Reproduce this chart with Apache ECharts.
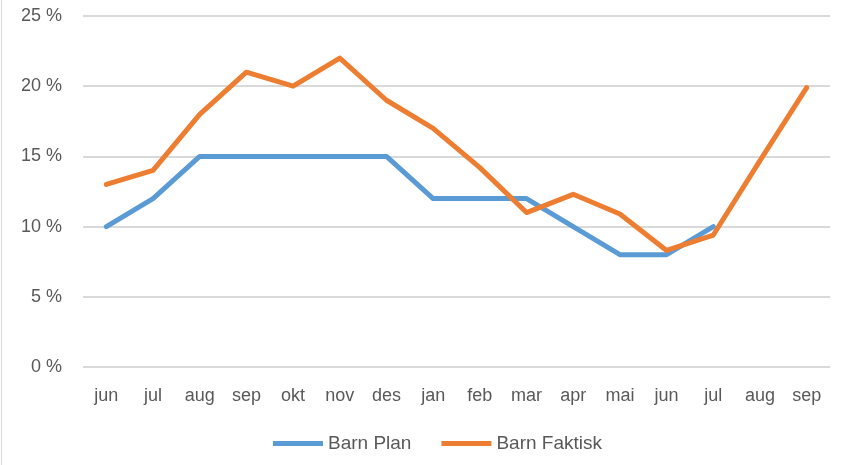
<!DOCTYPE html>
<html><head><meta charset="utf-8">
<script src="https://cdn.jsdelivr.net/npm/echarts@6/dist/echarts.min.js"></script>
<style>html,body{margin:0;padding:0;background:#fff}#c{width:844px;height:465px}</style>
</head><body><div id="c"></div>
<script>
const categories = ['jun','jul','aug','sep','okt','nov','des','jan','feb','mar','apr','mai','jun','jul','aug','sep'];
const barnPlan = [10,12,15,15,15,15,15,12,12,12,10,8,8,10,null,null];
const barnFaktisk = [13,14,18,21,20,22,19,17,14.2,11,12.3,10.9,8.3,9.4,14.7,19.9];
const yTicks = [0,5,10,15,20,25];
const FONT = '"Liberation Sans",Arial,sans-serif';
const chart = echarts.init(document.getElementById('c'));
chart.setOption({
  animation:false,
  grid:{left:83,right:14,top:16,bottom:98,containLabel:false},
  graphic:[{type:'line',shape:{x1:1.5,y1:0,x2:1.5,y2:465},style:{stroke:'#d9d9d9',lineWidth:1}}],
  legend:{bottom:7,left:268,itemWidth:50,itemHeight:5,itemGap:30,icon:'rect',
    textStyle:{color:'#595959',fontSize:19,fontFamily:FONT},
    data:['Barn Plan','Barn Faktisk']},
  xAxis:{type:'category',data:categories,boundaryGap:true,
    axisLine:{show:false},axisTick:{show:false},
    axisLabel:{color:'#595959',fontSize:18,fontFamily:FONT,margin:20,interval:0}},
  yAxis:{type:'value',min:0,max:25,interval:5,
    axisLine:{show:false},axisTick:{show:false},
    splitLine:{lineStyle:{color:'#d9d9d9',width:2}},
    axisLabel:{color:'#595959',fontSize:18,fontFamily:FONT,margin:21,
      formatter:v=>yTicks.includes(v)?v+' %':''}},
  series:[
    {name:'Barn Plan',type:'line',data:barnPlan,showSymbol:false,symbol:'none',
      lineStyle:{color:'#5B9BD5',width:5,cap:'round',join:'round'},itemStyle:{color:'#5B9BD5'}},
    {name:'Barn Faktisk',type:'line',data:barnFaktisk,showSymbol:false,symbol:'none',
      lineStyle:{color:'#ED7D31',width:5,cap:'round',join:'round'},itemStyle:{color:'#ED7D31'}}
  ]
});
</script></body></html>
